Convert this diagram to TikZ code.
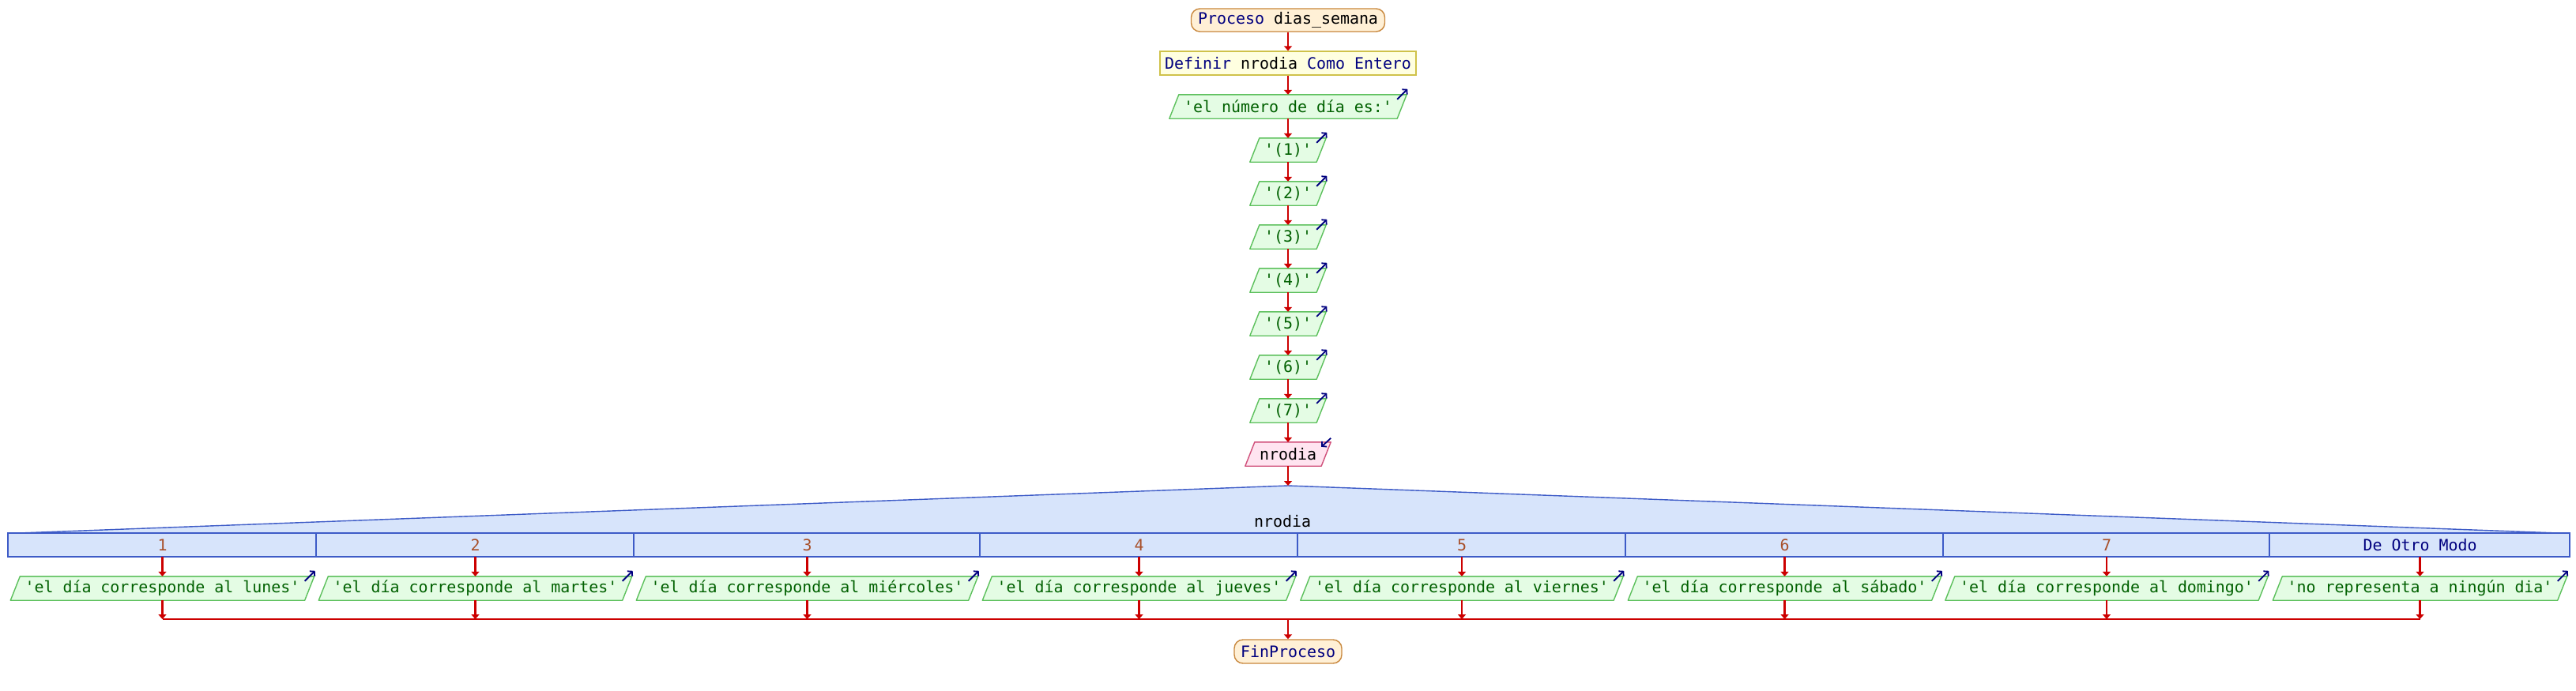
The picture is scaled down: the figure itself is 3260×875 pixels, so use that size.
\documentclass[tikz,border=0pt]{standalone}
\usepackage{fontspec}
\newfontfamily\psmono{DejaVu Sans Mono}
\usetikzlibrary{arrows.meta}
\pgfdeclarelayer{bg}
\pgfsetlayers{bg,main}
\definecolor{procfill}{HTML}{FFF0D6}
\definecolor{procline}{HTML}{C8873C}
\definecolor{deffill}{HTML}{FFFFE0}
\definecolor{defline}{HTML}{CFC24A}
\definecolor{outfill}{HTML}{E4FCE4}
\definecolor{outline}{HTML}{5CC05C}
\definecolor{outtext}{HTML}{006000}
\definecolor{infill}{HTML}{FFE4F0}
\definecolor{inline}{HTML}{D0507A}
\definecolor{swfill}{HTML}{D7E4FB}
\definecolor{swline}{HTML}{3D5BC7}
\definecolor{navy}{HTML}{00007F}
\definecolor{casenum}{HTML}{A8502A}
\definecolor{flowred}{HTML}{CC0000}
\newcommand\paral[3]{%
  \begin{pgfonlayer}{bg}
  \path[fill=#2, draw=#3, line width=1.4pt, line join=round]
    ([xshift=-6pt]#1.south west) -- ([xshift=6pt]#1.north west) --
    ([xshift=6pt]#1.north east) -- ([xshift=-6pt]#1.south east) -- cycle;
  \end{pgfonlayer}}
\newcommand\outicon[1]{\draw[iconarrow] ([xshift=-6pt,yshift=-6pt]#1.north east) -- ([xshift=7pt,yshift=7pt]#1.north east);}
\newcommand\outnode[4]{% name, x, y, text
  \node[outn] (#1) at (#2,#3) {#4};
  \paral{#1}{outfill}{outline}\outicon{#1}}
\begin{document}
\begin{tikzpicture}[x=1pt,y=-1pt,
  font=\psmono\fontsize{19.93}{24}\selectfont,
  flow/.style={draw=flowred, line width=2.6pt, -{Triangle[length=6pt,width=10pt]}},
  redline/.style={draw=flowred, line width=2.6pt},
  iconarrow/.style={draw=navy, line width=1.8pt, -{Straight Barb[length=4pt,width=9pt]}},
  outn/.style={text=outtext, inner xsep=12pt, inner ysep=0pt, minimum height=30pt},
  term/.style={draw=procline, fill=procfill, line width=1.4pt, rounded corners=11pt, minimum height=29pt, inner sep=0pt, text=navy},
  defn/.style={draw=defline, fill=deffill, line width=1.4pt, minimum height=30pt, inner sep=0pt, text=navy},
  inn/.style={text=black, inner xsep=12pt, inner ysep=0pt, minimum height=30pt},
  casel/.style={minimum height=30pt, inner sep=0pt, text=casenum},
  swl/.style={draw=swline, line width=1.4pt}
]
\useasboundingbox (0,0) rectangle (3260,875);
% main column
\node[term, minimum width=245pt] (proc) at (1630,25.5) {Proceso {\color{black}dias\_semana}};
\node[defn, minimum width=324pt] (def) at (1630,80) {Definir {\color{black}nrodia} Como Entero};
\outnode{o0}{1630}{135}{'el número de día es:'}
\outnode{o1}{1630}{190}{'(1)'}
\outnode{o2}{1630}{245}{'(2)'}
\outnode{o3}{1630}{300}{'(3)'}
\outnode{o4}{1630}{355}{'(4)'}
\outnode{o5}{1630}{410}{'(5)'}
\outnode{o6}{1630}{465}{'(6)'}
\outnode{o7}{1630}{520}{'(7)'}
\node[inn] (in) at (1630,575) {nrodia};
\paral{in}{infill}{inline}
\draw[iconarrow] ([xshift=6pt,yshift=5pt]in.north east) -- ([xshift=-6pt,yshift=-6pt]in.north east);
% switch
\coordinate (apex) at (1630,615);
\path[fill=swfill] (24,675) -- (apex) -- (3237,675) -- cycle;
\draw[swl] (24,675) -- (apex) -- (3237,675);
\draw[swl, fill=swfill] (10,675) rectangle (3252,705);
\node[text=black, inner sep=0pt] (swname) at (1623,660) {nrodia};
\foreach \d in {400,802,1240,1642,2057,2459,2872} \draw[swl] (\d,675) -- (\d,705);
\node[casel] (k1) at (205.5,690) {1};
\node[casel] (k2) at (601.5,690) {2};
\node[casel] (k3) at (1021.5,690) {3};
\node[casel] (k4) at (1441.5,690) {4};
\node[casel] (k5) at (1850,690) {5};
\node[casel] (k6) at (2258.5,690) {6};
\node[casel] (k7) at (2666,690) {7};
\node[casel, text=navy] (k8) at (3062.5,690) {De Otro Modo};
\outnode{c1}{205.5}{745}{'el día corresponde al lunes'}
\outnode{c2}{601.5}{745}{'el día corresponde al martes'}
\outnode{c3}{1021.5}{745}{'el día corresponde al miércoles'}
\outnode{c4}{1441.5}{745}{'el día corresponde al jueves'}
\outnode{c5}{1850}{745}{'el día corresponde al viernes'}
\outnode{c6}{2258.5}{745}{'el día corresponde al sábado'}
\outnode{c7}{2666}{745}{'el día corresponde al domingo'}
\outnode{c8}{3062.5}{745}{'no representa a ningún dia'}
\node[term, minimum width=136pt, minimum height=30pt] (fin) at (1630,825) {FinProceso};
\coordinate (join) at (1630,784);
% connectors
\draw[flow] (proc) -- (def);
\draw[flow] (def) -- (o0);
\draw[flow] (o0) -- (o1);
\draw[flow] (o1) -- (o2);
\draw[flow] (o2) -- (o3);
\draw[flow] (o3) -- (o4);
\draw[flow] (o4) -- (o5);
\draw[flow] (o5) -- (o6);
\draw[flow] (o6) -- (o7);
\draw[flow] (o7) -- (in);
\draw[flow] (in) -- (apex);
\foreach \i in {1,...,8} {
  \draw[flow] (k\i.south) -- (c\i.north);
  \draw[flow] (c\i.south) -- (c\i.south |- join);
}
\draw[redline] (c1.south |- join) -- (c8.south |- join);
\draw[flow] (join) -- (fin);
\end{tikzpicture}
\end{document}
